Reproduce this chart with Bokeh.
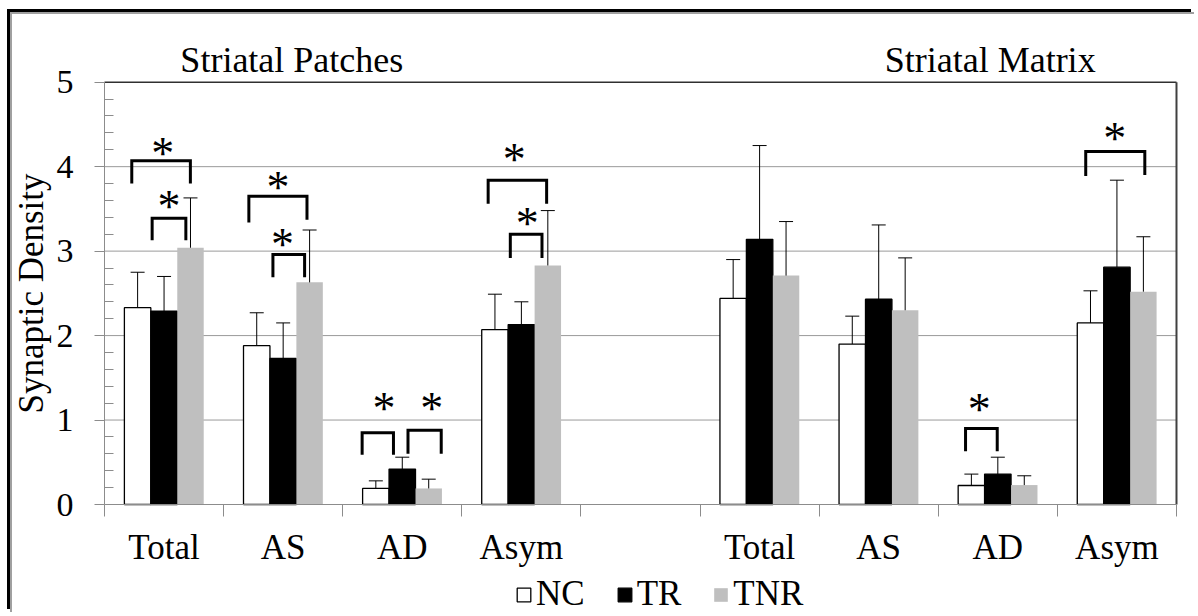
import numpy as np
from bokeh.plotting import figure
from bokeh.models import (ColumnDataSource, FixedTicker, Range1d, Whisker, TeeHead,
                          Legend, LegendItem)
from bokeh.core.properties import value
from bokeh.embed import file_html
from bokeh.resources import INLINE

# ---------------- data ----------------
tick_labels = ["Total", "AS", "AD", "Asym", "", "Total", "AS", "AD", "Asym"]
region_titles = ["Striatal Patches", "Striatal Matrix"]
slots = [0, 1, 2, 3, 5, 6, 7, 8]          # category slot of each bar group

nc_mean  = [2.33, 1.88, 0.19, 2.07, 2.44, 1.90, 0.225, 2.15]
tr_mean  = [2.29, 1.73, 0.42, 2.13, 3.14, 2.43, 0.36, 2.81]
tnr_mean = [3.04, 2.63, 0.19, 2.83, 2.71, 2.30, 0.23, 2.52]

nc_sd  = [0.42, 0.39, 0.09, 0.42, 0.46, 0.33, 0.135, 0.38]
tr_sd  = [0.41, 0.42, 0.14, 0.27, 1.11, 0.88, 0.20, 1.03]
tnr_sd = [0.59, 0.62, 0.11, 0.65, 0.64, 0.62, 0.11, 0.65]

# significance brackets (slot, relative x of legs, heights in data units)
sig_slot  = [0, 0, 1, 1, 2, 2, 3, 3, 7, 8]
sig_left  = [0.229, 0.400, 0.212, 0.414, 0.163, 0.548, 0.221, 0.407, 0.229, 0.238]
sig_right = [0.721, 0.683, 0.700, 0.680, 0.426, 0.827, 0.712, 0.673, 0.495, 0.734]
sig_top   = [4.07, 3.39, 3.65, 2.96, 0.85, 0.88, 3.84, 3.20, 0.90, 4.18]
sig_leg_l = [3.80, 3.13, 3.34, 2.69, 0.59, 0.60, 3.56, 2.92, 0.63, 3.89]
sig_leg_r = [3.80, 3.13, 3.37, 2.69, 0.59, 0.60, 3.56, 2.92, 0.63, 3.90]
star_x    = [0.490, 0.541, 0.456, 0.494, 0.346, 0.747, 0.440, 0.550, 0.344, 0.481]
star_y    = [4.23, 3.60, 3.82, 3.15, 1.21, 1.21, 4.15, 3.40, 1.19, 4.41]

y_major = [0, 1, 2, 3, 4, 5]
grid_y = [1, 2, 3, 4]
Y_MAX = 5
N_SLOTS = len(tick_labels)

# ---------------- figure ----------------
FONT = "Liberation Serif"
W, H = 1184, 600
# the frame fills the whole canvas; axes sit at fixed data locations
p = figure(width=W, height=H, output_backend="svg", toolbar_location=None,
           title=None, x_range=Range1d(-0.7724, 9.168), y_range=Range1d(-1.3024, 5.8016),
           min_border_left=0, min_border_right=0, min_border_top=0, min_border_bottom=0)
p.outline_line_color = None
p.background_fill_color = "white"
p.border_fill_color = "white"
p.styles = {"margin-left": "10px", "margin-top": "12px",
            "border-left": "2px solid #a0a0a0", "border-top": "2px solid #a0a0a0",
            "box-shadow": "-3px -3px 0 0 #000000"}

# grid (drawn only across the plot area)
p.xgrid.visible = False
p.ygrid.visible = False
p.segment(x0=[0] * len(grid_y), y0=grid_y, x1=[N_SLOTS] * len(grid_y), y1=grid_y,
          line_color="#9a9a9a", line_width=1)

bw = 0.222
offsets = [-bw, 0.0, bw]
series = [("NC", nc_mean, nc_sd, "white", "black"),
          ("TR", tr_mean, tr_sd, "black", "black"),
          ("TNR", tnr_mean, tnr_sd, "#bfbfbf", None)]

renderers = {}
for (name, mean, sd, fill, line), off in zip(series, offsets):
    xs = [s + 0.5 + off for s in slots]
    src = ColumnDataSource(dict(x=xs, top=mean,
                                upper=[m + e for m, e in zip(mean, sd)]))
    w = Whisker(source=src, base="x", lower="top", upper="upper", dimension="height",
                line_color="black", line_width=1,
                upper_head=TeeHead(size=14, line_color="black", line_width=1),
                lower_head=None, level="glyph")
    p.add_layout(w)
    r = p.vbar(x="x", top="top", bottom=0, width=bw, source=src, fill_color=fill,
               line_color=line, line_width=1.3 if line else 0)
    renderers[name] = r

# plot-area border: top and right sides
p.segment(x0=[0, N_SLOTS], y0=[Y_MAX, 0], x1=[N_SLOTS, N_SLOTS], y1=[Y_MAX, Y_MAX],
          line_color=["#303030", "#404040"], line_width=[1.6, 2])

# brackets
bx, by = [], []
for s, l, r_, t, yl, yr in zip(sig_slot, sig_left, sig_right, sig_top, sig_leg_l, sig_leg_r):
    bx.append([s + l, s + l, s + r_, s + r_])
    by.append([yl, t, t, yr])
p.multi_line(bx, by, line_color="black", line_width=3, line_join="miter")

p.text(x=[s + v for s, v in zip(sig_slot, star_x)], y=star_y, text=["*"] * len(star_y),
       text_font=value(FONT), text_font_size="46px", text_align="center",
       text_baseline="alphabetic", y_offset=6, text_color="black")

# region titles
p.text(x=[0.637, 6.55], y=[5.127, 5.127], text=region_titles,
       text_font=value(FONT), text_font_size="36px", text_align="left",
       text_baseline="alphabetic", y_offset=-11, text_color="black")

# y axis
yax = p.yaxis[0]
yax.fixed_location = 0
yax.bounds = (0, Y_MAX)
minor_y = [k * 0.2 for k in range(1, 25) if k % 5 != 0]
yax.ticker = FixedTicker(ticks=y_major, minor_ticks=minor_y)
yax.axis_line_color = "#8c8c8c"
yax.major_tick_line_color = "#8c8c8c"
yax.minor_tick_line_color = "#8c8c8c"
yax.major_tick_out = 10
yax.major_tick_in = 0
yax.minor_tick_in = 9
yax.minor_tick_out = 0
yax.major_label_standoff = 21
yax.major_label_text_font = FONT
yax.major_label_text_font_size = "34px"
yax.major_label_text_color = "black"
yax.axis_label = "Synaptic Density"
yax.axis_label_text_font = FONT
yax.axis_label_text_font_size = "35px"
yax.axis_label_text_font_style = "normal"
yax.axis_label_text_color = "black"
yax.axis_label_standoff = 3

# x axis
xax = p.xaxis[0]
xax.fixed_location = 0
xax.bounds = (0, N_SLOTS)
centers = [i + 0.5 for i, lab in enumerate(tick_labels) if lab]
xax.ticker = FixedTicker(ticks=centers, minor_ticks=list(range(0, N_SLOTS + 1)))
xax.major_label_overrides = {c: tick_labels[int(c)] for c in centers}
xax.axis_line_color = "#8c8c8c"
xax.major_tick_line_color = None
xax.major_tick_out = 0
xax.major_tick_in = 0
xax.minor_tick_line_color = "#8c8c8c"
xax.minor_tick_out = 12
xax.minor_tick_in = 0
xax.major_label_standoff = 11
xax.major_label_text_font = FONT
xax.major_label_text_font_size = "35px"
xax.major_label_text_color = "black"

# legend
legend = Legend(items=[LegendItem(label=n, renderers=[renderers[n]]) for n in ["NC", "TR", "TNR"]],
                orientation="horizontal", location=(503, 0),
                glyph_width=17, glyph_height=17, label_standoff=4, spacing=31,
                padding=0, margin=0, border_line_color=None, background_fill_alpha=0,
                label_text_font=FONT, label_text_font_size="35px", label_text_color="black")
p.add_layout(legend)

open("out.html", "w").write(file_html(p, INLINE))
